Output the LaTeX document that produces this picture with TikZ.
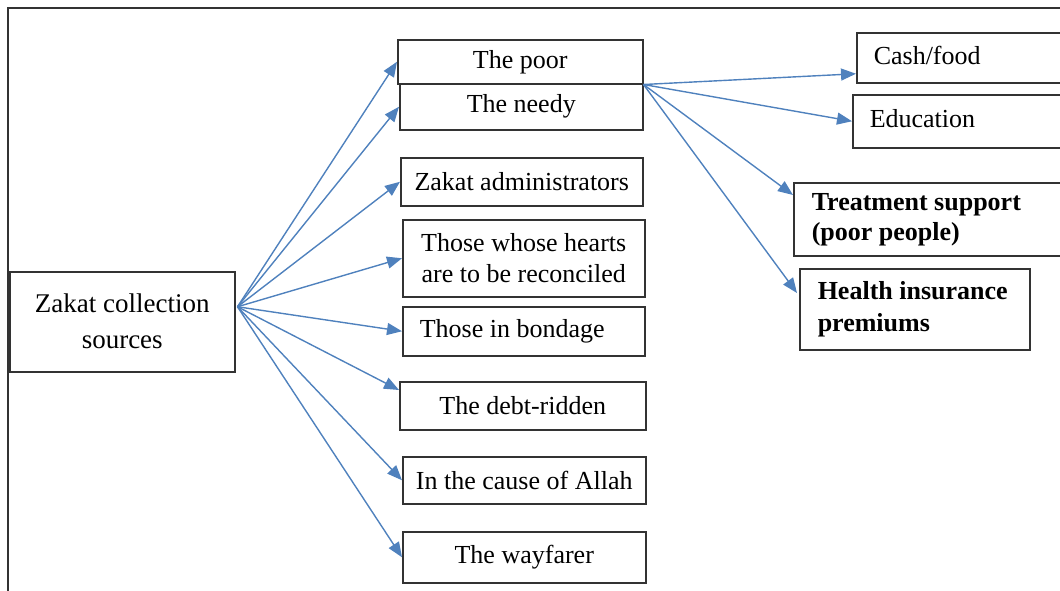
\documentclass[tikz,border=0pt]{standalone}
\usepackage{fontspec}
\setmainfont{Liberation Serif}
\usepackage{tikz}
\usetikzlibrary{arrows.meta,positioning}
\definecolor{zline}{HTML}{4F81BD}
\definecolor{zedge}{HTML}{333333}
\tikzset{
  zbox/.style={draw=zedge, line width=0.75pt, anchor=north west, inner sep=0pt,
    align=center, font=\fontsize{13}{15.5}\selectfont},
  lbox/.style={zbox, align=flush left, inner xsep=8.5pt},
  link/.style={draw=zline, line width=0.7pt, -{Triangle[length=7.5pt,width=6pt]}}
}
\begin{document}
\begin{tikzpicture}[x=0.5pt,y=-0.5pt]
      \useasboundingbox (0,0) rectangle (1060,590);
      \clip (0,0) rectangle (1060,590);
      \draw[zedge, line width=0.8pt] (8,8) rectangle (1100,620);
      % Define nodes
      \node[zbox, minimum width=112.5pt, minimum height=50pt, font=\fontsize{13.5}{18}\selectfont]
        (src) at (9,271) {Zakat collection\\sources};
      \node[zbox, minimum width=122.5pt, minimum height=22pt] (poor) at (397,39) {The poor};
      \node[zbox, minimum width=121.5pt, minimum height=23pt] (needy) at (399,83) {The needy};
      \node[zbox, minimum width=121pt, minimum height=24pt] (admin) at (400,157) {Zakat administrators};
      \node[zbox, minimum width=121pt, minimum height=38.5pt] (hearts) at (402,219)
        {Those whose hearts\\are to be reconciled};
      \node[lbox, minimum width=121pt, minimum height=24.5pt, text width=104pt] (bondage) at (402,306)
        {Those in bondage};
      \node[zbox, minimum width=123pt, minimum height=24pt] (debt) at (399,381) {The debt-ridden};
      \node[zbox, minimum width=121.5pt, minimum height=23.5pt] (allah) at (402,456) {In the cause of Allah};
      \node[zbox, minimum width=121.5pt, minimum height=25.5pt] (wayfarer) at (402,531) {The wayfarer};
      \node[lbox, minimum width=110pt, minimum height=25pt, text width=93pt] (cash) at (856,32)
        {\raisebox{2.5pt}{Cash/food}};
      \node[lbox, minimum width=112pt, minimum height=26.5pt, text width=95pt] (edu) at (852,94)
        {\raisebox{3pt}{Education}};
      \node[lbox, minimum width=142pt, minimum height=36.5pt, text width=124pt, inner xsep=9pt,
        font=\fontsize{13}{15}\selectfont\bfseries] (treat) at (793,182)
        {Treatment support\\(poor people)};
      \node[lbox, minimum width=115pt, minimum height=40.5pt, text width=97pt, inner xsep=9pt,
        font=\fontsize{13}{16}\selectfont\bfseries] (health) at (799,268)
        {Health insurance\\premiums};
      \coordinate (fan) at ([xshift=1pt,yshift=7.5pt]src.east);
      % Connect nodes
      \foreach \t in {poor,needy,admin,hearts,bondage,allah,wayfarer}
        \draw[link] (fan) -- (\t.west);
      \draw[link] (fan) -- ([yshift=-4.5pt]debt.north west);
      \draw[link] (poor.south east) -- ([yshift=-8pt]cash.west);
      \draw[link] (poor.south east) -- (edu.west);
      \draw[link] (poor.south east) -- ([yshift=-6.5pt]treat.north west);
      \draw[link] (poor.south east) -- ([yshift=-12.5pt,xshift=-1pt]health.north west);
\end{tikzpicture}
\end{document}
